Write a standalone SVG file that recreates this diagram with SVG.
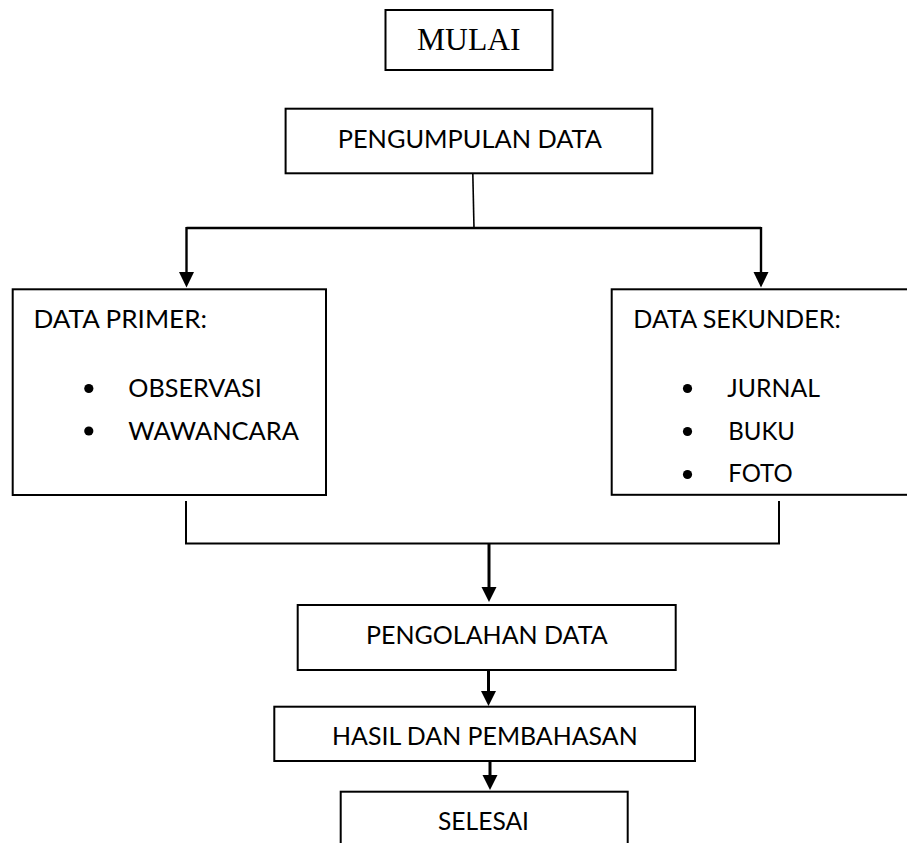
<svg xmlns="http://www.w3.org/2000/svg" width="907" height="843" viewBox="0 0 907 843">
<style>
.box{fill:#fff;stroke:#000;stroke-width:2}
.t{font-family:Lato,"Liberation Sans",sans-serif;font-size:25px;fill:#000}
.serif{font-family:"Liberation Serif",serif;font-size:32px;fill:#000}
.ln{stroke:#000;fill:none}
.head{fill:#000}
.dot{fill:#000}
</style>
<rect width="907" height="843" fill="#fff"/>
<g id="connectors">
<line class="ln" x1="472.8" y1="173" x2="474" y2="228" stroke-width="1.6"/>
<line class="ln" x1="186.5" y1="228" x2="761" y2="228" stroke-width="2.4"/>
<line class="ln" x1="186.5" y1="227" x2="186.5" y2="274" stroke-width="2.4"/>
<polygon class="head" points="179,272 194,272 186.5,287.5"/>
<line class="ln" x1="761" y1="227" x2="761" y2="274" stroke-width="2.4"/>
<polygon class="head" points="753.5,272 768.5,272 761,287.5"/>
<polyline class="ln" points="186,501 186,543.5 779,543.5 779,501" stroke-width="2"/>
<line class="ln" x1="489" y1="543" x2="489" y2="589" stroke-width="3"/>
<polygon class="head" points="481.5,587 496.5,587 489,602"/>
<line class="ln" x1="488.5" y1="670" x2="488.5" y2="693" stroke-width="3"/>
<polygon class="head" points="481,691 496,691 488.5,706"/>
<line class="ln" x1="490" y1="761" x2="490" y2="777" stroke-width="3"/>
<polygon class="head" points="482.5,775 497.5,775 490,790"/>
</g>
<g id="mulai">
<rect class="box" x="385.5" y="10" width="167" height="60"/>
<text class="serif" x="417" y="50" textLength="103.6" lengthAdjust="spacingAndGlyphs">MULAI</text>
</g>
<g id="pengumpulan">
<rect class="box" x="285.6" y="108.7" width="366.7" height="64.6"/>
<text class="t" x="337.7" y="148" textLength="264.3" lengthAdjust="spacingAndGlyphs">PENGUMPULAN DATA</text>
</g>
<g id="primer">
<rect class="box" x="12.7" y="289.3" width="313.3" height="205.7"/>
<text class="t" x="33.5" y="328.3" textLength="173.5" lengthAdjust="spacingAndGlyphs">DATA PRIMER:</text>
<circle class="dot" cx="88.8" cy="388.5" r="4.6"/>
<text class="t" x="128.3" y="396.7" textLength="133.4" lengthAdjust="spacingAndGlyphs">OBSERVASI</text>
<circle class="dot" cx="88.8" cy="431" r="4.6"/>
<text class="t" x="128.3" y="440" textLength="170.7" lengthAdjust="spacingAndGlyphs">WAWANCARA</text>
</g>
<g id="sekunder">
<rect class="box" x="611.7" y="289.3" width="310" height="205.5"/>
<text class="t" x="633.3" y="328.3" textLength="207.4" lengthAdjust="spacingAndGlyphs">DATA SEKUNDER:</text>
<circle class="dot" cx="687.5" cy="388.5" r="4.6"/>
<text class="t" x="727.3" y="396.7" textLength="92.7" lengthAdjust="spacingAndGlyphs">JURNAL</text>
<circle class="dot" cx="687.5" cy="431.5" r="4.6"/>
<text class="t" x="728.3" y="440" textLength="66.7" lengthAdjust="spacingAndGlyphs">BUKU</text>
<circle class="dot" cx="687.5" cy="474.5" r="4.6"/>
<text class="t" x="728.3" y="481.7" textLength="64.3" lengthAdjust="spacingAndGlyphs">FOTO</text>
</g>
<g id="pengolahan">
<rect class="box" x="297.7" y="605" width="378" height="65"/>
<text class="t" x="366" y="644.3" textLength="241.7" lengthAdjust="spacingAndGlyphs">PENGOLAHAN DATA</text>
</g>
<g id="hasil">
<rect class="box" x="274.3" y="706.7" width="420.7" height="54.3"/>
<text class="t" x="332" y="745" textLength="305.7" lengthAdjust="spacingAndGlyphs">HASIL DAN PEMBAHASAN</text>
</g>
<g id="selesai">
<rect class="box" x="340.7" y="791.7" width="287" height="70"/>
<text class="t" x="438" y="830" textLength="91" lengthAdjust="spacingAndGlyphs">SELESAI</text>
</g>
</svg>
